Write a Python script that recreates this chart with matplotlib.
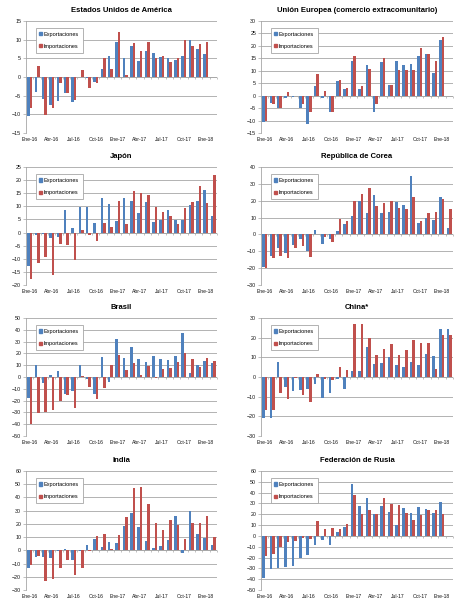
import numpy as np
import matplotlib as mpl
mpl.use('Agg')
import matplotlib.pyplot as plt
from matplotlib.patches import Patch

mpl.rcParams['font.family'] = 'Liberation Sans'

months = ['Ene-16', 'Feb-16', 'Mar-16', 'Abr-16', 'May-16', 'Jun-16', 'Jul-16', 'Ago-16',
          'Sep-16', 'Oct-16', 'Nov-16', 'Dic-16', 'Ene-17', 'Feb-17', 'Mar-17', 'Abr-17',
          'May-17', 'Jun-17', 'Jul-17', 'Ago-17', 'Sep-17', 'Oct-17', 'Nov-17', 'Dic-17',
          'Ene-18', 'Feb-18']
nan = np.nan

# Estados Unidos de America
usa_exp = [-10.5, -4, -6, -7.5, -6.5, -4.3, -6.7, -0.1, -0.2, -1.3, 2.2, 5.5, 9.3,
           5.1, 8.2, 4.3, 7, 6.5, 5.4, 5.1, 4.5, 5.7, 10, 7.6, 6.1, nan]
usa_imp = [-8.2, 3, -10.2, -8.3, -1.7, -4.3, -6.2, 2, -3, -1.6, 5, 2.1, 12,
           0.6, 9.1, 7, 9.3, 5.1, 5.7, 4, 5, 10, 8.4, 8.8, 9.3, nan]
# Union Europea
eu_exp = [-10.5, -2.8, -4.8, -1, -0.5, -5, -11.5, 4, -1, -6.5, 5.8, 2.5, 14,
          2.5, 12.3, -6.5, 13.4, 4.2, 13.8, 12.3, 12.8, 15.8, 16.8, 9, 22.5, nan]
eu_imp = [-10, -3.5, -4.8, 1.3, 0, -3.5, -6.5, 8.8, 2, -6.5, 6.2, 3.2, 16,
          3.8, 10.7, -3.5, 15.3, 4.2, 10.2, 10.2, 10.2, 19, 16.6, 14, 23.7, nan]
# Japon
jpn_exp = [-12.8, -1, -0.5, -2.2, -1.7, 8.5, 1.8, 9.8, 9.8, 3.6, 13.3, 10.7, 4.4,
           13.2, 11.9, 7.4, 11.5, 4.1, 4.8, 8.6, 4.8, 4.8, 10.4, 12.1, 16.2, 6.5]
jpn_imp = [-17.8, -11.5, -9.3, -16.3, -4.5, -4.7, -10.5, 0.8, -1, -3.2, 3.7, 2.3, 11.9,
           3.1, 15.9, 14.9, 14.3, 9.8, 7.7, 6.3, 3.3, 9.3, 11.7, 17.9, 11.4, 22]
# Republica de Corea
kor_exp = [-19.5, -13, -8, -11, -6.5, -3, -10, 2.5, -5.5, -3, 2.2, 6.3, 11,
           20, 13, 23.5, 13, 13.3, 19.5, 17.3, 34.8, 6.5, 9.7, 8.7, 22, 3.8]
kor_imp = [-20, -14, -13, -14.2, -8, -7, -13.5, 0.5, -1.5, -4.5, 9.3, 8, 20,
           24, 27.5, 17, 18.7, 19.7, 15.5, 15.3, 22.5, 8, 12.7, 13.5, 21, 14.8]
# Brasil
bra_exp = [-18, 10.2, -5.5, 1.5, 4.8, -14.5, -11.5, 10, -2, -14, 17, -4.5, 32.5,
           16, 25.3, 15, 12.5, 18, 15, 14.5, 18, 37.5, 3, 10, 13.5, 11.5]
bra_imp = [-39.5, -30.5, -30, -28.3, -20.7, -15.5, -26.5, 0.5, -8.5, -18.5, -9.5, 10, 19,
           6, 12, 1.5, 9, -1, 6.5, 8, 12.5, 20, 15.2, 8.8, 16.2, 13.5]
# China
chn_exp = [-21, -21, 7.5, -5, -7, -6.5, -6, -3.5, -10.5, -8, -1.2, -6.2, 3,
           2.8, 15.5, 6.5, 7.3, 10.3, 6.2, 5, 7.8, 6.2, 11.5, 10.8, 24.5, 24.5]
chn_imp = [-17, -17, -8, -11, -0.3, -9, -12.5, 1.5, -1, -1.5, 5.3, 3.5, 27,
           27, 20, 11.3, 14, 17, 11, 13.5, 19, 17.2, 17.5, 4.3, 21.5, 21.5]
# India
ind_exp = [-13, -5, -5, -5.5, -0.3, 1, -7, -0.3, 4, 8.8, 2.2, 6.3, 5.2,
           18.5, 28, 18, 7.3, 2, 3, 7.8, 26, -2, 30, 12.3, 9, 4.3]
ind_imp = [-11, -4.5, -23.5, -22, -13.5, -7.5, -19, -13.5, -0.5, 10.5, 12, 1, 11.7,
           25, 47, 48, 35, 20.3, 15.3, 23, 19, 8.5, 20.5, 21, 26.2, 10.2]
# Federacion de Rusia
rus_exp = [-38.5, -31, -30, -29, -28, -20, -17.5, -8, -3.5, -8, 4, 8.5, 48,
           28, 35, 20, 28, 22.5, 10, 25.5, 21, 27, 25, 21, 31.5, nan]
rus_imp = [-19, -16.5, -10, -6, -5, -1.5, -3, 13.5, 6.5, 7, 6.5, 11, 38,
           20, 23.5, 20, 35.5, 29.5, 28.5, 21, 14.5, 19, 23.5, 24, 20, nan]

panels = [
    ('Estados Unidos de América', usa_exp, usa_imp, (-15, 15), 5),
    ('Unión Europea (comercio extracomunitario)', eu_exp, eu_imp, (-15, 30), 5),
    ('Japón', jpn_exp, jpn_imp, (-20, 25), 5),
    ('República de Corea', kor_exp, kor_imp, (-30, 40), 10),
    ('Brasil', bra_exp, bra_imp, (-50, 50), 10),
    ('China*', chn_exp, chn_imp, (-30, 30), 10),
    ('India', ind_exp, ind_imp, (-30, 60), 10),
    ('Federación de Rusia', rus_exp, rus_imp, (-50, 60), 10),
]

blue = '#4f81bd'
red = '#c0504d'
grid = '#a6a6a6'

fig = plt.figure(figsize=(4.74, 6.09), dpi=100)
W, H = 474., 609.
cols = [(26, 217), (261, 453)]
rows = [(21, 133), (167, 285), (318, 436), (471, 590)]

x = np.arange(len(months))
w = 0.34
for i, (title, ex, im, ylim, step) in enumerate(panels):
    c0, c1 = cols[i % 2]
    r0, r1 = rows[i // 2]
    ax = fig.add_axes([c0 / W, 1 - r1 / H, (c1 - c0) / W, (r1 - r0) / H])
    ax.bar(x - w / 2, ex, w, color=blue, zorder=3)
    ax.bar(x + w / 2, im, w, color=red, zorder=3)
    ax.set_xlim(-0.5, len(months) - 0.5)
    ax.set_ylim(*ylim)
    ax.set_yticks(np.arange(ylim[0], ylim[1] + 0.1, step))
    ax.set_xticks(x[::3])
    ax.set_xticklabels(months[::3])
    ax.yaxis.grid(True, color=grid, lw=0.6, zorder=0)
    for s in ['top', 'right', 'bottom']:
        ax.spines[s].set_visible(False)
    ax.spines['left'].set_color(grid)
    ax.spines['left'].set_linewidth(0.6)
    ax.tick_params(axis='x', length=0, labelsize=3.6, pad=3.2, colors='#111111')
    ax.tick_params(axis='y', length=2, width=0.5, color=grid, labelsize=3.8,
                   pad=1.5, labelcolor='#111111')
    ax.axhline(0, color=grid, lw=0.6, zorder=2)
    # category tick marks on the zero line
    sec = ax.secondary_xaxis(0, transform=ax.transData)
    sec.set_xticks(np.arange(-0.5, len(months), 1))
    sec.set_xticklabels([])
    sec.tick_params(length=1.5, width=0.5, color=grid)
    sec.spines['bottom'].set_visible(False)
    ax.set_title(title, fontsize=5.5, fontweight='bold', pad=6.5)
    handles = [Patch(color=blue, label='Exportaciones'),
               Patch(color=red, label='Importaciones')]
    leg = ax.legend(handles=handles, loc='upper left', bbox_to_anchor=(0.05, 0.94),
                    fontsize=4, frameon=True, fancybox=False, framealpha=1,
                    edgecolor=grid, handlelength=0.5, handleheight=0.5,
                    handletextpad=0.3, labelspacing=1.3, borderpad=0.7,
                    borderaxespad=0)
    leg.get_frame().set_linewidth(0.6)
    leg.set_zorder(5)

plt.savefig('out.png', dpi=100)
